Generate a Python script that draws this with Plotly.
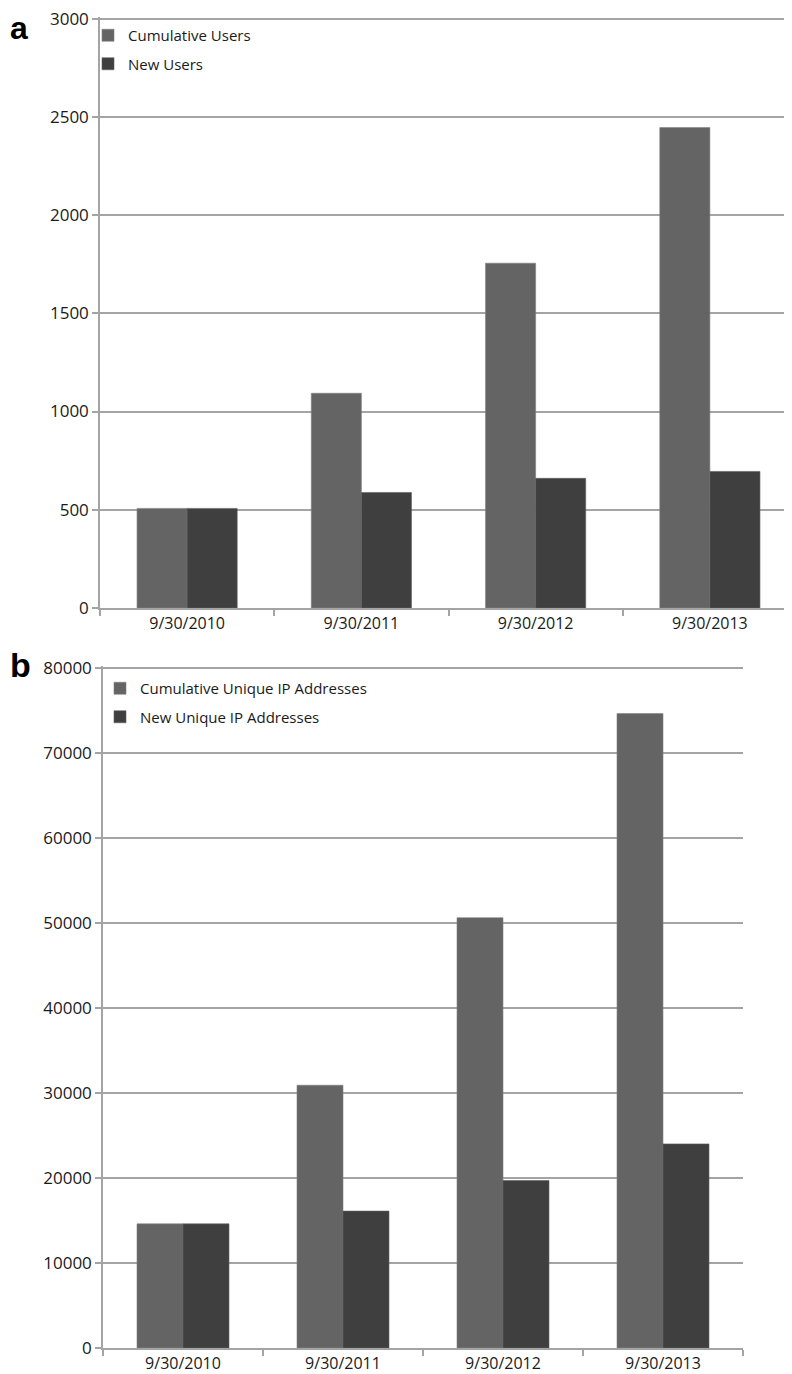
import plotly.graph_objects as go

W, H = 792, 1374

dates = ["9/30/2010", "9/30/2011", "9/30/2012", "9/30/2013"]
cum_users = [507, 1093, 1755, 2445]
new_users = [507, 588, 660, 695]
cum_ips = [14600, 30900, 50600, 74600]
new_ips = [14600, 16100, 19700, 24000]

C_CUM = "#646464"
C_NEW = "#3f3f3f"
GRID = "#a4a4a4"
FONT = "Open Sans"
TXT = "#1a1a1a"


def px_x(x):
    return x / W


def px_y(y):
    return 1 - y / H


fig = go.Figure()
fig.add_trace(go.Bar(x=dates, y=cum_users, name="Cumulative Users", marker=dict(color=C_CUM, line=dict(color="#808080", width=0.6)),
                     xaxis="x", yaxis="y", legend="legend", legendgroup="a1"))
fig.add_trace(go.Bar(x=dates, y=new_users, name="New Users", marker=dict(color=C_NEW, line=dict(color="#606060", width=0.6)),
                     xaxis="x", yaxis="y", legend="legend", legendgroup="a2"))
fig.add_trace(go.Bar(x=dates, y=cum_ips, name="Cumulative Unique IP Addresses", marker=dict(color=C_CUM, line=dict(color="#808080", width=0.6)),
                     xaxis="x2", yaxis="y2", legend="legend2", legendgroup="b1"))
fig.add_trace(go.Bar(x=dates, y=new_ips, name="New Unique IP Addresses", marker=dict(color=C_NEW, line=dict(color="#606060", width=0.6)),
                     xaxis="x2", yaxis="y2", legend="legend2", legendgroup="b2"))

xcommon = dict(type="category", showline=True, linecolor=GRID, linewidth=1.5, ticks="outside", tickson="boundaries",
               ticklen=6, tickcolor=GRID, tickwidth=1.5, showgrid=False, zeroline=False, automargin=False,
               tickfont=dict(family=FONT, size=16, color=TXT), fixedrange=True)
ycommon = dict(showline=True, linecolor=GRID, linewidth=1.5, ticks="outside", ticklen=6, tickcolor=GRID, tickwidth=1.5,
               showgrid=True, gridcolor=GRID, gridwidth=1.5, zeroline=False, automargin=False, tickformat="d",
               ticklabeloverflow="allow", tickfont=dict(family=FONT, size=17, color=TXT), fixedrange=True)

fig.update_layout(
    width=W, height=H,
    margin=dict(l=0, r=0, t=0, b=0),
    paper_bgcolor="white", plot_bgcolor="white",
    template="none",
    barmode="group", bargap=0.425, bargroupgap=0,
    xaxis=dict(xcommon, domain=[px_x(92), px_x(789)], anchor="y"),
    yaxis=dict(ycommon, domain=[px_y(600), px_y(9)], anchor="x", range=[0, 3008], tickvals=[0, 500, 1000, 1500, 2000, 2500, 3000]),
    xaxis2=dict(xcommon, domain=[px_x(95), px_x(735)], anchor="y2"),
    yaxis2=dict(ycommon, domain=[px_y(1340), px_y(658)], anchor="x2", range=[0, 80200], tickvals=[0, 10000, 20000, 30000, 40000, 50000, 60000, 70000, 80000]),
    legend=dict(x=px_x(80), y=px_y(11), xanchor="left", yanchor="top", bgcolor="rgba(0,0,0,0)",
                font=dict(family=FONT, size=15, color=TXT), tracegroupgap=6, itemwidth=30),
    legend2=dict(x=px_x(92), y=px_y(664), xanchor="left", yanchor="top", bgcolor="rgba(0,0,0,0)",
                 font=dict(family=FONT, size=15, color=TXT), tracegroupgap=6, itemwidth=30),
    showlegend=True,
    annotations=[
        dict(text="<b>a</b>", x=0, y=1, xref="paper", yref="paper", xanchor="left", yanchor="top",
             showarrow=False, font=dict(family="Liberation Sans", size=32, color="black")),
        dict(text="<b>b</b>", x=0, y=px_y(636), xref="paper", yref="paper", xanchor="left", yanchor="top",
             showarrow=False, font=dict(family="Liberation Sans", size=34, color="black")),
    ],
)

fig.write_html("out.html")
